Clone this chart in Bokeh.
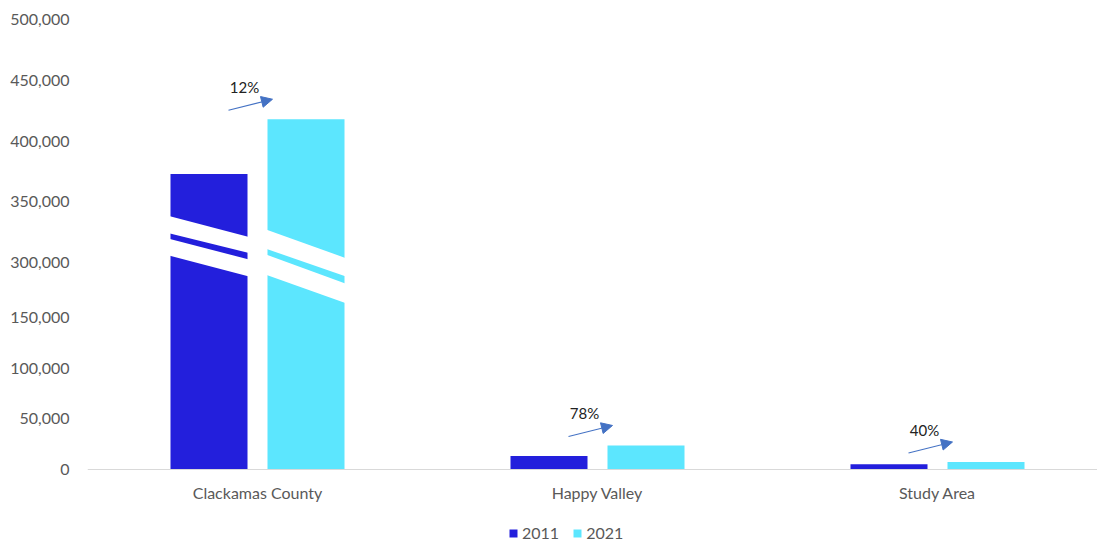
from bokeh.plotting import figure
from bokeh.models import (Range1d, FixedTicker, Arrow, NormalHead, ColumnDataSource,
                          Legend, LegendItem, LinearAxis)
from bokeh.core.properties import value
from bokeh.embed import file_html
from bokeh.resources import INLINE

# ---------------- data ----------------
categories = ["Clackamas County", "Happy Valley", "Study Area"]
pop_2011 = [373000, 13300, 5300]
pop_2021 = [418000, 23700, 7400]
change_labels = ["12%", "78%", "40%"]
y_tick_values = [0, 50000, 100000, 150000, 300000, 350000, 400000, 450000, 500000]

# ---------------- broken-axis transform ----------------
LOW_MAX = 150000     # top of lower segment
HIGH_MIN = 300000    # bottom of upper segment
HIGH_BASE = 204      # display position of HIGH_MIN
HIGH_SCALE = 0.0012  # display units per person in upper segment


def to_display(v):
    if v <= LOW_MAX:
        return v / 1000.0
    return HIGH_BASE + (v - HIGH_MIN) * HIGH_SCALE


DARK = "#231FDC"
LIGHT = "#5CE6FE"
ARROW_C = "#4472C4"
GREY_TXT = "#595959"
FONT = "Lato"

PX_PER_CAT = 340.0
FRAME_W = 1010
PX_PER_Y = 450 / 444.0
BELOW_PX = 73  # space under the baseline for labels and legend

centers = [i + 0.5 for i in range(len(categories))]
bar_w = 77 / PX_PER_CAT
dodge = 48.5 / PX_PER_CAT

p = figure(width=1097, height=542, output_backend="svg", toolbar_location=None,
           x_range=Range1d(0, FRAME_W / PX_PER_CAT),
           y_range=Range1d(-BELOW_PX / PX_PER_Y, 444),
           x_axis_location=None,
           min_border_left=87, min_border_right=0, min_border_top=19,
           min_border_bottom=0)
p.xgrid.visible = False
p.ygrid.visible = False
p.outline_line_color = None
p.background_fill_color = "white"

src1 = ColumnDataSource(dict(x=[c - dodge for c in centers],
                             top=[to_display(v) for v in pop_2011]))
src2 = ColumnDataSource(dict(x=[c + dodge for c in centers],
                             top=[to_display(v) for v in pop_2021]))
r1 = p.vbar(x="x", top="top", bottom=0, width=bar_w, source=src1,
            fill_color=DARK, line_color=None)
r2 = p.vbar(x="x", top="top", bottom=0, width=bar_w, source=src2,
            fill_color=LIGHT, line_color=None)

# break stripes (style geometry: offsets from the break level, left/right edge)
STRIPES = {
    "2011": [(46.0, 29.2, 25.3, 9.5), (23.7, 7.2, 3.2, -13.5)],
    "2021": [(32.9, 13.8, 4.5, -13.5), (8.2, -11.9, -20.7, -39.9)],
}
xs, ys = [], []
for series, vals, sgn in (("2011", pop_2011, -1), ("2021", pop_2021, 1)):
    for c, v in zip(centers, vals):
        if v > LOW_MAX:
            xl = c + sgn * dodge - bar_w / 2 - 1.5 / PX_PER_CAT
            xr = c + sgn * dodge + bar_w / 2 + 1.5 / PX_PER_CAT
            for (lt, lb, rt, rb) in STRIPES[series]:
                xs.append([xl, xr, xr, xl])
                ys.append([HIGH_BASE + lt, HIGH_BASE + rt, HIGH_BASE + rb, HIGH_BASE + lb])
p.patches(xs=xs, ys=ys, fill_color="white", line_color=None)

# growth arrows and labels
tops21 = [to_display(v) for v in pop_2021]
arr_src = ColumnDataSource(dict(
    x0=[c - 29 / PX_PER_CAT for c in centers],
    y0=[t + 9 / PX_PER_Y for t in tops21],
    x1=[c + 15 / PX_PER_CAT for c in centers],
    y1=[t + 20 / PX_PER_Y for t in tops21],
))
p.add_layout(Arrow(x_start="x0", y_start="y0", x_end="x1", y_end="y1", source=arr_src,
                   line_color=ARROW_C, line_width=1.2,
                   end=NormalHead(size=11, fill_color=ARROW_C, line_color=ARROW_C)))
p.text(x=[c - 13 / PX_PER_CAT for c in centers], y=[t + 32 / PX_PER_Y for t in tops21],
       text=change_labels, text_font=value(FONT), text_font_size="15px",
       text_align="center", text_baseline="middle", text_color="#222222")

# y axis
p.yaxis.ticker = FixedTicker(ticks=[to_display(v) for v in y_tick_values])
p.yaxis.major_label_overrides = {to_display(v): f"{v:,}" for v in y_tick_values}
p.yaxis.axis_line_color = None
p.yaxis.major_tick_line_color = None
p.yaxis.minor_tick_line_color = None
p.yaxis.major_label_standoff = 12
p.yaxis.major_label_text_font = FONT
p.yaxis.major_label_text_font_size = "16px"
p.yaxis.major_label_text_color = GREY_TXT

# x axis drawn at the zero baseline
xaxis = LinearAxis(ticker=FixedTicker(ticks=centers),
                   major_label_overrides={c: name for c, name in zip(centers, categories)},
                   fixed_location=0,
                   axis_line_color="#D9D9D9", axis_line_width=1,
                   major_tick_line_color=None, minor_tick_line_color=None,
                   major_label_standoff=7,
                   major_label_text_font=FONT, major_label_text_font_size="16px",
                   major_label_text_color=GREY_TXT)
p.add_layout(xaxis, "below")

legend = Legend(items=[LegendItem(label="2011", renderers=[r1]),
                       LegendItem(label="2021", renderers=[r2])],
                orientation="horizontal", location=(421, 0),
                glyph_width=10, glyph_height=10, label_standoff=4, spacing=13,
                padding=0, margin=0, border_line_color=None,
                background_fill_alpha=0,
                label_text_font=FONT, label_text_font_size="16px",
                label_text_color=GREY_TXT)
p.add_layout(legend)

open("out.html", "w").write(file_html(p, INLINE))
